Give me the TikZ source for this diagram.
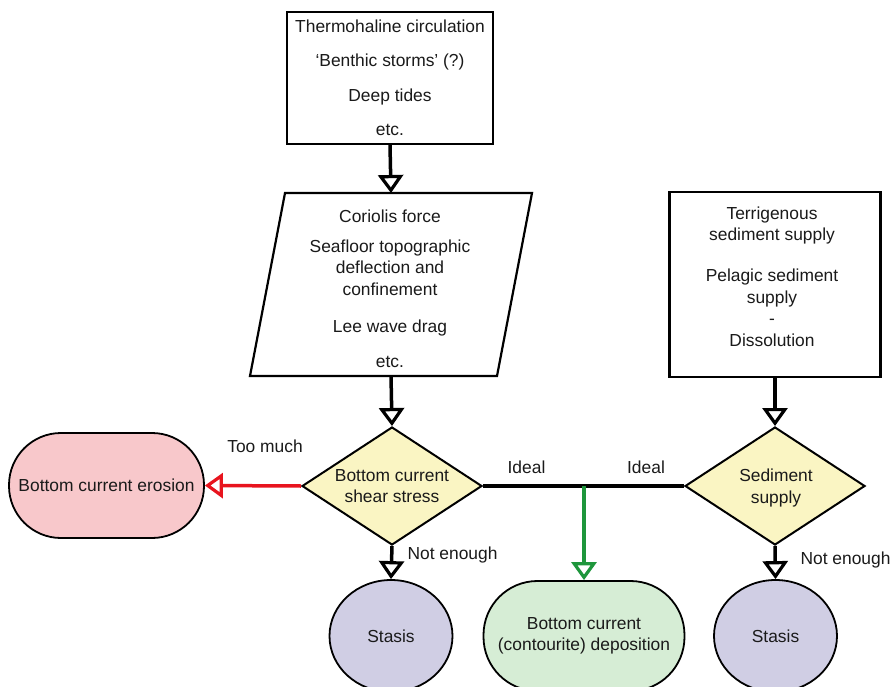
\documentclass[tikz,border=0pt]{standalone}
\usepackage{fontspec}
\setmainfont{Liberation Sans}
\usetikzlibrary{arrows.meta,shapes.geometric}
\definecolor{txtcol}{HTML}{1A1A1A}
\definecolor{ylw}{HTML}{FAF5C3}
\definecolor{pnk}{HTML}{F8C8CB}
\definecolor{prp}{HTML}{D0CEE4}
\definecolor{grn}{HTML}{D6EDD5}
\definecolor{redarr}{HTML}{E8141E}
\definecolor{grnarr}{HTML}{1E963C}
\begin{document}
\begin{tikzpicture}[x=1pt,y=-1pt,
  every node/.style={text=txtcol, font=\fontsize{17.4}{21.5}\selectfont},
  box/.style={draw=black, line width=2.2pt, fill=white},
  dia/.style={diamond, draw=black, line width=2pt, fill=ylw, minimum width=180pt, minimum height=118pt, inner sep=0pt},
  term/.style={draw=black, line width=1.8pt, rounded corners=52pt, align=center},
  blob/.style={ellipse, draw=black, line width=1.8pt, fill=prp, minimum width=123pt, minimum height=112pt},
  conn/.style={line width=3.5pt, -{Triangle[width=25pt,length=18pt,fill=white,line width=3.2pt]}},
]
\useasboundingbox (0,0) rectangle (891,687);
\clip (0,0) rectangle (891,687);

% top box
\node[box, minimum width=206pt, minimum height=132pt, align=center] (top) at (390,78)
  {Thermohaline circulation\\[13pt]‘Benthic storms’ (?)\\[13pt]Deep tides\\[13pt]etc.};

% parallelogram
\draw[box] (285,193) -- (532,193) -- (497,376) -- (250,376) -- cycle;
\coordinate (paraT) at (391,193);
\coordinate (paraB) at (391,376);
\node[align=center] (paratxt) at (390,288.5)
  {Coriolis force\\[8.5pt]Seafloor topographic\\deflection and\\confinement\\[15.5pt]Lee wave drag\\[13.5pt]etc.};

% sediment box
\node[box, minimum width=211pt, minimum height=185pt] (sup) at (775,284.5) {};
\node[align=center] (suptxt) at (772,276.5)
  {Terrigenous\\sediment supply\\[19.5pt]Pelagic sediment\\supply\\-\\Dissolution};

% diamonds
\node[dia] (d1) at (392,486) {};
\node[align=center] (d1txt) at (392,486) {Bottom current\\shear stress};
\node[dia] (d2) at (775,486) {};
\node[align=center] (d2txt) at (776,488) {Sediment\\supply};

% terminals
\node[term, fill=pnk, minimum width=195pt, minimum height=105pt] (ero) at (106.5,485.5) {Bottom current erosion};
\node[blob] (st1) at (391,636) {Stasis};
\node[blob] (st2) at (775.5,636) {Stasis};
\node[term, fill=grn, minimum width=201pt, minimum height=110pt, rounded corners=54pt] (dep) at (584,636)
  {Bottom current\\(contourite) deposition};

% labels
\node[anchor=base] (toomuch) at (265,452) {Too much};
\node[anchor=base] (ideal1) at (526.5,473) {Ideal};
\node[anchor=base] (ideal2) at (646,473) {Ideal};
\node[anchor=base] (ne1) at (452.5,559) {Not enough};
\node[anchor=base] (ne2) at (845.5,564) {Not enough};

% connectors
\draw[conn] (top.south) -- (paraT);
\draw[conn] (paraB) -- (d1.north);
\draw[conn] (sup.south) -- (d2.north);
\draw[conn] (d1.south) -- (st1.north);
\draw[conn] (d2.south) -- (st2.north);
\draw[conn, draw=redarr] (d1.west) -- (ero.east);
\draw[line width=3.5pt] (d1.east) -- (d2.west);
\coordinate (junc) at (584,486);
\draw[conn, draw=grnarr] (junc) -- (dep.north);
\end{tikzpicture}
\end{document}
